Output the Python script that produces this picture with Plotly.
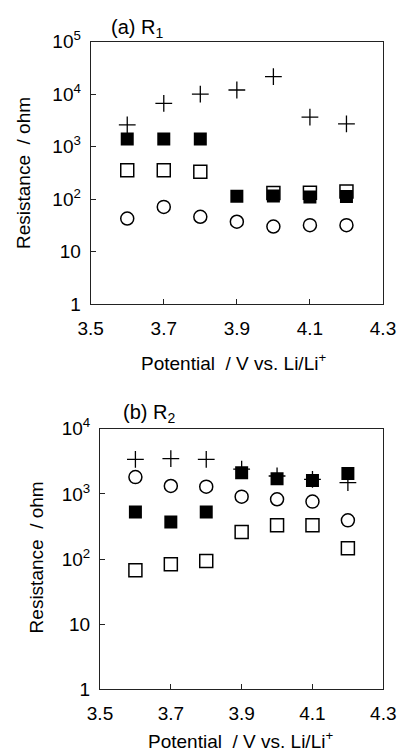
import plotly.graph_objects as go

potential = [3.6, 3.7, 3.8, 3.9, 4.0, 4.1, 4.2]

# Panel (a) R1
r1_plus = [2600, 6700, 10000, 12000, 21600, 3650, 2720]
r1_filled = [1390, 1390, 1390, 113, 115, 110, 112]
r1_open = [353, 353, 333, None, 130, 132, 140]
r1_circle = [42.6, 71, 46, 37, 30, 31.8, 31.8]

# Panel (b) R2
r2_plus = [3390, 3470, 3390, 2400, 1880, 1670, 1490]
r2_circle = [1810, 1320, 1290, 906, 825, 760, 392]
r2_filled = [527, 370, 527, 2110, 1710, 1610, 2050]
r2_open = [67, 83, 93, 259, 329, 329, 146]

xticks = [3.5, 3.7, 3.9, 4.1, 4.3]
xticklabels = ["3.5", "3.7", "3.9", "4.1", "4.3"]
yticks_a = [1, 10, 100, 1000, 10000, 100000]
yticklabels_a = ["1", "10", "10<sup>2</sup>", "10<sup>3</sup>", "10<sup>4</sup>", "10<sup>5</sup>"]
yticks_b = [1, 10, 100, 1000, 10000]
yticklabels_b = ["1", "10", "10<sup>2</sup>", "10<sup>3</sup>", "10<sup>4</sup>"]

W, H = 401, 752
FONT = "Liberation Sans, Arial, sans-serif"


def px(x):
    return x / W


def py(y):
    return 1 - y / H


fig = go.Figure()


def add_panel(xa, ya, plus, circ, filled, opn, order):
    for k in order:
        if k == "open":
            fig.add_trace(go.Scatter(x=potential, y=opn, mode="markers",
                                     marker=dict(symbol="square", size=13, color="white",
                                                 line=dict(width=1.5, color="black")),
                                     xaxis=xa, yaxis=ya, showlegend=False))
        elif k == "plus":
            fig.add_trace(go.Scatter(x=potential, y=plus, mode="markers",
                                     marker=dict(symbol="cross-thin", size=12,
                                                 line=dict(width=1.3, color="black")),
                                     xaxis=xa, yaxis=ya, showlegend=False))
        elif k == "circle":
            fig.add_trace(go.Scatter(x=potential, y=circ, mode="markers",
                                     marker=dict(symbol="circle", size=13, color="white",
                                                 line=dict(width=1.5, color="black")),
                                     xaxis=xa, yaxis=ya, showlegend=False))
        elif k == "filled":
            fig.add_trace(go.Scatter(x=potential, y=filled, mode="markers",
                                     marker=dict(symbol="square", size=13, color="black",
                                                 line=dict(width=0)),
                                     xaxis=xa, yaxis=ya, showlegend=False))


add_panel("x", "y", r1_plus, r1_circle, r1_filled, r1_open, ["plus", "open", "circle", "filled"])
add_panel("x2", "y2", r2_plus, r2_circle, r2_filled, r2_open, ["open", "plus", "circle", "filled"])

axis_common = dict(showgrid=False, zeroline=False, showline=True, linecolor="#222", linewidth=1,
                   mirror=True, ticks="inside", ticklen=5, tickcolor="#222", automargin=False,
                   tickfont=dict(family=FONT, size=19, color="black"))
xstyle = dict(axis_common, ticklabelstandoff=7)
ystyle = dict(axis_common, ticklabelstandoff=5)

fig.update_layout(
    template="none",
    width=W, height=H, margin=dict(l=0, r=0, t=0, b=0, pad=0),
    paper_bgcolor="white", plot_bgcolor="white",
    xaxis=dict(domain=[px(90.7), px(383)], range=[3.5, 4.3], tickvals=xticks, ticktext=xticklabels,
               anchor="y", **xstyle),
    yaxis=dict(domain=[py(304), py(41.7)], type="log", range=[0, 5], tickvals=yticks_a,
               ticktext=yticklabels_a, anchor="x", **ystyle),
    xaxis2=dict(domain=[px(100), px(383.3)], range=[3.5, 4.3], tickvals=xticks, ticktext=xticklabels,
                anchor="y2", **xstyle),
    yaxis2=dict(domain=[py(689.3), py(428.7)], type="log", range=[0, 4], tickvals=yticks_b,
                ticktext=yticklabels_b, anchor="x2", **ystyle),
)

ann_font = dict(family=FONT, size=19, color="black")
anns = [
    dict(text="(a) R<sub>1</sub>", x=px(109), y=py(28), xanchor="left", yanchor="middle",
         font=dict(family=FONT, size=20, color="black")),
    dict(text="(b) R<sub>2</sub>", x=px(120.7), y=py(414), xanchor="left", yanchor="middle",
         font=dict(family=FONT, size=20, color="black")),
    dict(text="Resistance  / ohm", x=px(23), y=py(173), textangle=-90, xanchor="center",
         yanchor="middle", font=ann_font),
    dict(text="Resistance  / ohm", x=px(36.7), y=py(557.7), textangle=-90, xanchor="center",
         yanchor="middle", font=ann_font),
    dict(text="Potential  / V vs. Li/Li<sup>+</sup>", x=px(234), y=py(361.7), xanchor="center",
         yanchor="middle", font=ann_font),
    dict(text="Potential  / V vs. Li/Li<sup>+</sup>", x=px(240.7), y=py(739.5), xanchor="center",
         yanchor="middle", font=ann_font),
]
for a in anns:
    a.update(xref="paper", yref="paper", showarrow=False)
fig.update_layout(annotations=anns)

fig.write_html("out.html", config={"displayModeBar": False},
               post_script="document.body.style.margin='0';document.body.style.overflow='hidden';")
